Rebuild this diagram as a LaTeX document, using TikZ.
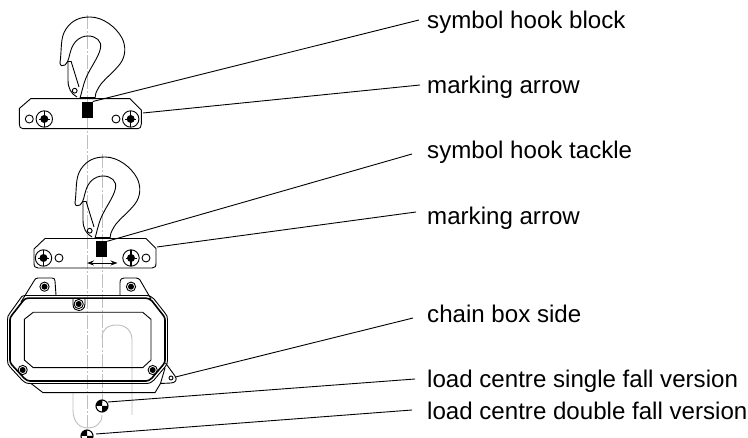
\documentclass[tikz,border=0pt]{standalone}
\usepackage{fontspec}
\setmainfont{Liberation Sans}
\usetikzlibrary{arrows.meta}
\tikzset{
  x=1pt,y=-1pt,
  ln/.style={draw=black,line width=0.9pt,line join=round},
  leader/.style={draw=black,line width=0.9pt},
  cl/.style={draw=black!25,line width=1pt,dash pattern=on 14pt off 2pt on 2pt off 2pt},
  ghost/.style={draw=black!25,line width=0.9pt},
  lab/.style={anchor=base west,inner sep=0pt,font=\fontsize{24.1}{26}\selectfont},
  anchorpt/.style={inner sep=0pt,minimum size=0pt}
}
\newcommand{\hookshape}[2]{%
\begin{scope}[shift={(#1,#2)}]
\draw[ln] (60,63) .. controls (62,48) and (60,38) .. (66,29) .. controls (72,20) and (80,17) .. (90,17)
  .. controls (103,17) and (116,27) .. (122,38) .. controls (126,46) and (126,56) .. (120,64)
  .. controls (113,73) and (103,80) .. (99,87) .. controls (96,92) and (95,95) .. (95,98);
\draw[ln] (60,63) .. controls (60,66) and (63,66.5) .. (65,65) .. controls (69,62) and (69,55) .. (71,50)
  .. controls (73,43) and (79,36) .. (88,36) .. controls (96,36) and (102,41) .. (100.5,48)
  .. controls (99,57) and (90,68) .. (86,78) .. controls (83,85) and (82,92) .. (80,98);
\draw[ln] (68,61) -- (68,80) .. controls (68,88) and (71,94) .. (77,97);
\draw[ln] (71,61) -- (79,87);
\draw[ln] (68,61) -- (71,61);
\draw[ln] (74.7,90.7) circle (2.4);
\draw[ln,line width=1.4pt] (80,98) -- (95,98);
\end{scope}}
\newcommand{\boltmark}[2]{%
\draw[ln] (#1,#2) circle (8.2);
\fill[black] (#1,#2) circle (4);
\draw[ln,line width=1.3pt] (#1,#2-8) -- (#1,#2+8);
\draw[ln] (#1-5.5,#2) -- (#1+5.5,#2);
}
\newcommand{\smallbolt}[2]{%
\draw[ln] (#1,#2) circle (4.6);
\fill[black] (#1,#2) circle (3);
}
\newcommand{\loadcentre}[2]{%
\draw[ln,line width=1.1pt] (#1,#2) circle (6);
\fill[black] (#1,#2) -- (#1-6,#2) arc[start angle=180,end angle=270,radius=6] -- cycle;
\fill[black] (#1,#2) -- (#1+6,#2) arc[start angle=0,end angle=90,radius=6] -- cycle;
}
\begin{document}
\begin{tikzpicture}
\useasboundingbox (0,0) rectangle (748,438);
% centre lines and ghost paths
\draw[cl] (87,15) -- (87,428);
\draw[cl] (102,154) -- (102,403);
\draw[ghost] (102,338) .. controls (102,330) and (107,325) .. (117,325) .. controls (127,325) and (132,332) .. (132,340) -- (132,415);
\draw[ghost] (73,393) -- (73,410) .. controls (73,422) and (80,428) .. (87,428) .. controls (95,428) and (102,424) .. (102,415);
% block 1
\hookshape{0}{0}
\draw[ln] (30.7,98.7) -- (130,98.7) -- (141.3,110) -- (141.3,124) .. controls (141.3,127) and (140,128.7) .. (138,128.7)
  -- (23,128.7) .. controls (20.5,128.7) and (19.3,127) .. (19.3,124) -- (19.3,108.5) -- cycle;
\node[anchorpt,fill=black,minimum width=11pt,minimum height=16pt] (sym1) at (87,109.7) {};
\draw[ln] (29.3,119) circle (4);
\draw[ln] (116,119) circle (4);
\boltmark{44.3}{119}
\boltmark{130.7}{119}
% block 2
\hookshape{15}{140}
\draw[ln] (45,238.5) -- (146,238.5) -- (156,248.5) -- (156,263) .. controls (156,266.5) and (155,268) .. (152,268)
  -- (38,268) .. controls (35,268) and (34,266.5) .. (34,263) -- (34,249) -- cycle;
\node[anchorpt,fill=black,minimum width=11pt,minimum height=16pt] (sym2) at (101.5,249.5) {};
\draw[ln] (59,258) circle (4);
\draw[ln] (146,258) circle (4);
\boltmark{43.5}{258}
\boltmark{131}{258}
\draw[ln,{Stealth[length=7pt,width=5pt]}-{Stealth[length=7pt,width=5pt]}] (87,263) -- (117.5,263);
% chain box
\draw[ln] (21,302) -- (34.3,280.5) .. controls (35,279) and (36,278) .. (38,278) -- (52,278) .. controls (54,278) and (55,279) .. (55,281) -- (56,295);
\draw[ln] (120,295) -- (120,283) .. controls (120,279) and (122,278) .. (124,278) -- (136,278) .. controls (138,278) and (139,279) .. (140,280) -- (151,299);
\draw[ln] (26,295.5) -- (146,295.5) .. controls (150,295.5) and (152,297) .. (154,299) -- (165,313)
  .. controls (167,315) and (167.5,317) .. (167.5,320) -- (167.5,360) .. controls (167.5,363) and (167,365) .. (165,367)
  -- (154,380) .. controls (152,382) and (150,383.5) .. (146,383.5) -- (30,383.5) .. controls (26,383.5) and (24,382) .. (22,380)
  -- (10,367) .. controls (8,365) and (7.5,363) .. (7.5,360) -- (7.5,320) .. controls (7.5,317) and (8,315) .. (10,313) -- (20,299)
  .. controls (21,297) and (22,295.5) .. (26,295.5) -- cycle;
\draw[ln,line width=1.6pt] (28,298.2) -- (146,298.2) .. controls (148,298.2) and (150,299) .. (152,301) -- (163,315)
  .. controls (164.5,317) and (165,318) .. (165,320) -- (165,360) .. controls (165,362) and (164.5,363) .. (163,365)
  -- (152,378) .. controls (150,380) and (148,381) .. (146,381) -- (30,381) .. controls (28,381) and (26,380) .. (24,378)
  -- (12,365) .. controls (10.5,363) and (10,362) .. (10,360) -- (10,320) .. controls (10,318) and (10.5,317) .. (12,315) -- (23,301)
  .. controls (24.5,299) and (26,298.2) .. (28,298.2) -- cycle;
\draw[ln] (33.3,312.3) -- (142.7,312.3) -- (151,319.3) -- (151,360) -- (142.7,367.7) -- (33.3,367.7) -- (24.3,360) -- (24.3,319.3) -- cycle;
\draw[ln] (73,299) -- (73,304) .. controls (73,309) and (76,310.5) .. (78.7,310.5) .. controls (81,310.5) and (85,309) .. (85,304) -- (85,299);
\smallbolt{44.5}{286.7}
\smallbolt{131}{286.7}
\smallbolt{78.7}{304}
\smallbolt{22.7}{370}
\smallbolt{152.7}{370}
\draw[ln] (31,383.5) -- (43,392.7) -- (155,392.7) -- (160.5,383.5);
\draw[ln] (165.5,363) -- (175,376) .. controls (178,380) and (175,383) .. (171,383) -- (160.5,383.5) -- (165,368);
\node[ln,circle,inner sep=0pt,minimum size=4pt,draw] (lug) at (171,378) {};
% load centres
\loadcentre{102}{406}
\begin{scope}
\clip (70,425) rectangle (110,438);
\loadcentre{87}{436}
\end{scope}
% labels
\node[lab] (t1) at (427,28.3) {symbol hook block};
\node[lab] (t2) at (427,93.3) {marking arrow};
\node[lab] (t3) at (427,158.3) {symbol hook tackle};
\node[lab] (t4) at (427,225) {marking arrow};
\node[lab] (t5) at (427,322.7) {chain box side};
\node[lab] (t6) at (427,388) {load centre single fall version};
\node[lab] (t7) at (427,420) {load centre double fall version};
% free ends of leaders
\coordinate (e1) at (419,20);
\coordinate (e2) at (420,85);
\coordinate (e3) at (412,154);
\coordinate (e4) at (416,212);
\coordinate (e5) at (413,318);
\coordinate (e6) at (415,379);
\coordinate (e7) at (412,410);
\coordinate (s2) at (143,113);
\coordinate (s4) at (157,247);
\coordinate (s6) at (108,402);
\coordinate (s7) at (96,434);
\draw[leader] (sym1.north east) -- (e1);
\draw[leader] (s2) -- (e2);
\draw[leader] (sym2.north east) -- (e3);
\draw[leader] (s4) -- (e4);
\draw[leader] (lug.east) ++(2,-1) -- (e5);
\draw[leader] (s6) -- (e6);
\draw[leader] (s7) -- (e7);
\end{tikzpicture}
\end{document}
